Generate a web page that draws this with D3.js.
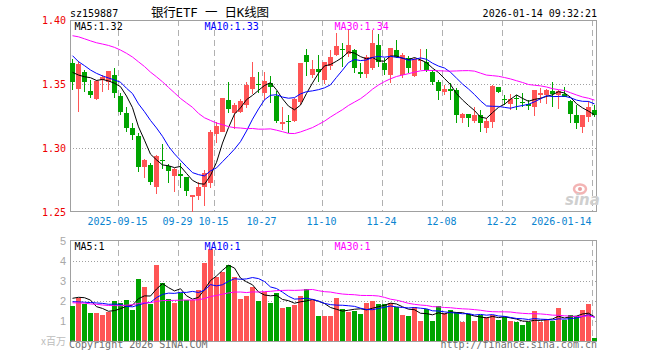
<!DOCTYPE html>
<html>
<head>
<meta charset="utf-8">
<script src="https://cdn.jsdelivr.net/npm/d3@7/dist/d3.min.js"></script>
<style>
body { margin: 0; background: #fff; }
svg { display: block; }
text { font-family: "DejaVu Sans Mono", monospace; font-size: 10px; }
</style>
</head>
<body>
<div id="chart"></div>
<script>
// trading days shown on the chart
var dates = [
    "2025-09-03","2025-09-04","2025-09-05","2025-09-08","2025-09-09","2025-09-10","2025-09-11","2025-09-12",
    "2025-09-15","2025-09-16","2025-09-17","2025-09-18","2025-09-19","2025-09-22","2025-09-23","2025-09-24",
    "2025-09-25","2025-09-26","2025-09-29","2025-09-30","2025-10-09","2025-10-10","2025-10-13","2025-10-14",
    "2025-10-15","2025-10-16","2025-10-17","2025-10-20","2025-10-21","2025-10-22","2025-10-23","2025-10-24",
    "2025-10-27","2025-10-28","2025-10-29","2025-10-30","2025-10-31","2025-11-03","2025-11-04","2025-11-05",
    "2025-11-06","2025-11-07","2025-11-10","2025-11-11","2025-11-12","2025-11-13","2025-11-14","2025-11-17",
    "2025-11-18","2025-11-19","2025-11-20","2025-11-21","2025-11-24","2025-11-25","2025-11-26","2025-11-27",
    "2025-11-28","2025-12-01","2025-12-02","2025-12-03","2025-12-04","2025-12-05","2025-12-08","2025-12-09",
    "2025-12-10","2025-12-11","2025-12-12","2025-12-15","2025-12-16","2025-12-17","2025-12-18","2025-12-19",
    "2025-12-22","2025-12-23","2025-12-24","2025-12-25","2025-12-26","2025-12-29","2025-12-30","2025-12-31",
    "2026-01-05","2026-01-06","2026-01-07","2026-01-08","2026-01-09","2026-01-12","2026-01-13","2026-01-14"
];

var opens = [
    1.3661,1.3461,1.3594,1.3445,1.3383,1.3531,1.3513,1.3570,1.3409,1.3276,1.3159,1.3096,1.2854,1.2867,1.2698,1.2906,
    1.2862,1.2784,1.2797,1.2776,1.2620,1.2628,1.2698,1.2729,1.3109,1.3128,1.3375,1.3271,1.3284,1.3336,1.3458,1.3502,
    1.3427,1.3510,1.3409,1.3188,1.3214,1.3214,1.3362,1.3727,1.3570,1.3617,1.3531,1.3643,1.3727,1.3773,1.3734,1.3766,
    1.3591,1.3576,1.3622,1.3805,1.3661,1.3570,1.3766,1.3570,1.3700,1.3565,1.3677,1.3669,1.3596,1.3513,1.3440,1.3458,
    1.3453,1.3232,1.3266,1.3211,1.3258,1.3154,1.3206,1.3474,1.3385,1.3344,1.3391,1.3359,1.3344,1.3318,1.3414,1.3414,
    1.3448,1.3414,1.3422,1.3370,1.3258,1.3167,1.3240,1.3297
];
var highs = [
    1.3695,1.3682,1.3610,1.3531,1.3531,1.3570,1.3604,1.3628,1.3427,1.3323,1.3193,1.3115,1.2911,1.2880,1.2943,1.3031,
    1.2875,1.2841,1.2885,1.2776,1.2633,1.2737,1.2828,1.3141,1.3206,1.3393,1.3518,1.3349,1.3380,1.3518,1.3674,1.3596,
    1.3596,1.3562,1.3448,1.3323,1.3258,1.3388,1.3667,1.3773,1.3688,1.3727,1.3674,1.3766,1.3900,1.3818,1.3920,1.3770,
    1.3661,1.3727,1.3920,1.3890,1.3700,1.3779,1.3844,1.3740,1.3720,1.3701,1.3770,1.3770,1.3609,1.3530,1.3492,1.3505,
    1.3466,1.3271,1.3266,1.3318,1.3297,1.3232,1.3492,1.3479,1.3414,1.3422,1.3414,1.3427,1.3375,1.3453,1.3466,1.3458,
    1.3513,1.3453,1.3479,1.3375,1.3336,1.3258,1.3370,1.3336
];
var lows = [
    1.3453,1.3279,1.3440,1.3388,1.3375,1.3440,1.3453,1.3388,1.3258,1.3128,1.3063,1.2815,1.2763,1.2711,1.2638,1.2833,
    1.2729,1.2659,1.2685,1.2628,1.2503,1.2594,1.2549,1.2685,1.3036,1.3128,1.3271,1.3146,1.3271,1.3310,1.3422,1.3427,
    1.3375,1.3349,1.3193,1.3141,1.3120,1.3206,1.3336,1.3565,1.3544,1.3513,1.3500,1.3609,1.3720,1.3635,1.3710,1.3583,
    1.3544,1.3544,1.3609,1.3635,1.3570,1.3505,1.3700,1.3550,1.3583,1.3557,1.3610,1.3596,1.3492,1.3375,1.3414,1.3375,
    1.3193,1.3193,1.3167,1.3193,1.3128,1.3115,1.3154,1.3427,1.3336,1.3297,1.3297,1.3323,1.3297,1.3250,1.3349,1.3344,
    1.3323,1.3305,1.3396,1.3193,1.3146,1.3120,1.3206,1.3240
];
var closes = [
    1.3518,1.3659,1.3518,1.3417,1.3526,1.3557,1.3602,1.3427,1.3284,1.3159,1.3102,1.2854,1.2906,1.2737,1.2938,1.2903,
    1.2823,1.2833,1.2784,1.2664,1.2633,1.2698,1.2807,1.3128,1.3172,1.3388,1.3302,1.3336,1.3370,1.3492,1.3557,1.3497,
    1.3526,1.3479,1.3214,1.3206,1.3211,1.3383,1.3661,1.3669,1.3617,1.3591,1.3669,1.3714,1.3800,1.3766,1.3805,1.3622,
    1.3576,1.3714,1.3818,1.3674,1.3609,1.3779,1.3714,1.3727,1.3622,1.3693,1.3685,1.3609,1.3513,1.3448,1.3458,1.3448,
    1.3258,1.3266,1.3232,1.3258,1.3193,1.3211,1.3487,1.3440,1.3380,1.3383,1.3383,1.3352,1.3328,1.3453,1.3427,1.3453,
    1.3419,1.3448,1.3401,1.3263,1.3198,1.3258,1.3318,1.3258
];
// volume, millions
var volumes = [
    1.73,2.15,1.83,1.40,1.40,1.28,1.45,2.00,1.87,2.03,1.53,3.08,2.70,1.83,3.78,2.88,
    2.08,1.88,2.37,2.02,2.03,2.53,3.88,4.58,3.17,3.45,3.78,3.18,2.08,2.23,2.70,2.00,
    2.42,1.87,2.37,1.65,1.70,1.78,2.23,2.58,2.03,1.23,1.23,1.23,2.13,1.58,1.45,1.48,
    1.33,1.88,1.98,1.83,1.83,1.87,1.67,1.28,1.23,1.70,0.98,1.58,0.98,1.73,1.40,1.52,
    1.42,0.93,1.32,0.98,1.28,1.20,1.28,1.03,1.20,0.98,0.92,0.78,0.95,1.47,0.95,1.08,
    0.98,1.63,1.03,1.27,1.23,1.52,1.83,0.12
];
// the 29 sessions before the first candle (only feed the moving averages)
var prevCloses = [
    1.392,1.398,1.390,1.397,1.386,1.393,1.388,1.391,1.392,1.398,1.3975,1.401,1.405,1.4031,1.408,
    1.413,1.411,1.4093,1.372,1.3656,1.4129,1.3828,1.3757,1.3786,1.3757,1.3764,1.3583,1.3457,1.3633
];
var prevVolumes = [
    2.40,2.10,2.60,2.00,2.30,2.20,2.10,2.18,1.05,1.00,0.99,1.80,1.65,1.90,1.72,
    1.70,1.90,2.00,1.85,1.93,2.25,2.00,1.55,1.60,1.50,1.90,1.93,2.00,3.04
];

var priceTicks  = [1.40, 1.35, 1.30, 1.25];
var volTicks    = [5, 4, 3, 2, 1];
var gridDates   = ["2025-09-15","2025-09-29","2025-10-15","2025-10-27","2025-11-10","2025-11-24","2025-12-08","2025-12-22","2026-01-14"];
var gridLabels  = ["2025-09-15","09-29","10-15","10-27","11-10","11-24","12-08","12-22","2026-01-14"];
var priceLegend = ["MA5:1.32", "MA10:1.33", "MA30:1.34"];
var volLegend   = ["MA5:1", "MA10:1", "MA30:1"];
var maPeriods   = [5, 10, 30];
var maColors    = ["#000000", "#0000ff", "#ff00ff"];

var red   = "#ff5555";
var green = "#00a400";

var width  = 660;
var height = 360;

var svg = d3.select("#chart").append("svg")
    .attr("width", width)
    .attr("height", height)
    .attr("shape-rendering", "crispEdges");

var left = 70, right = 597;
var x  = d3.scaleBand().domain(dates).range([69, 597]);
var y  = d3.scaleLinear().domain([1.25, 1.40]).range([212, 20]);
var yv = d3.scaleLinear().domain([0, 5]).range([340.7, 240.7]);

function movingAvg(prev, cur, n) {
    var all = prev.concat(cur);
    return cur.map(function(d, i) {
        var end = i + prev.length + 1;
        return d3.mean(all.slice(end - n, end));
    });
}

function frame(top, bottom, ticks, scale) {
    var g = svg.append("g");
    g.selectAll(".hg").data(ticks.slice(1, ticks.length - (scale === y ? 1 : 0))).enter().append("line")
        .attr("x1", left).attr("x2", right)
        .attr("y1", function(d) { return Math.round(scale(d)) + 0.5; })
        .attr("y2", function(d) { return Math.round(scale(d)) + 0.5; })
        .attr("stroke", "#a0a0a0").attr("stroke-dasharray", "1,2");
    g.selectAll(".vg").data(gridDates).enter().append("line")
        .attr("x1", function(d) { return x(d) + 1.5; })
        .attr("x2", function(d) { return x(d) + 1.5; })
        .attr("y1", top).attr("y2", bottom)
        .attr("stroke", "#b0b0b0").attr("stroke-dasharray", "6,4");
    g.append("rect")
        .attr("x", left + 0.5).attr("y", top + 0.5)
        .attr("width", right - left - 1).attr("height", bottom - top)
        .attr("fill", "none").attr("stroke", "#a0a0a0");
}

frame(20, 211, priceTicks, y);
frame(240, 341, volTicks, yv);

// watermark
var wm = svg.append("g").attr("shape-rendering", "auto");
wm.append("ellipse").attr("cx", 580).attr("cy", 189).attr("rx", 6).attr("ry", 4.5)
    .attr("fill", "none").attr("stroke", "#f3b4b4").attr("stroke-width", 2.5);
wm.append("circle").attr("cx", 580).attr("cy", 189).attr("r", 2).attr("fill", "#e9a0a0");
wm.append("text").attr("x", 565).attr("y", 205)
    .style("font-family", "DejaVu Sans").style("font-size", "15px")
    .style("font-style", "italic").style("font-weight", "bold")
    .attr("fill", "#cfcfcf").text("sina");

// candles
var idx = d3.range(dates.length);
var cg = svg.append("g");
cg.selectAll(".wick").data(idx).enter().append("line")
    .attr("x1", function(i) { return x(dates[i]) + 3.5; })
    .attr("x2", function(i) { return x(dates[i]) + 3.5; })
    .attr("y1", function(i) { return y(highs[i]); })
    .attr("y2", function(i) { return y(lows[i]); })
    .attr("stroke", function(i) { return closes[i] >= opens[i] ? red : green; });
cg.selectAll(".body").data(idx).enter().append("rect")
    .attr("x", function(i) { return x(dates[i]) + 1; })
    .attr("width", 5)
    .attr("y", function(i) { return y(Math.max(opens[i], closes[i])); })
    .attr("height", function(i) { return Math.max(1, Math.abs(y(opens[i]) - y(closes[i]))); })
    .attr("fill", function(i) { return closes[i] >= opens[i] ? red : green; });

// volume bars
svg.append("g").selectAll("rect").data(idx).enter().append("rect")
    .attr("x", function(i) { return x(dates[i]) + 1; })
    .attr("width", 5)
    .attr("y", function(i) { return yv(volumes[i]); })
    .attr("height", function(i) { return yv(0) - yv(volumes[i]); })
    .attr("fill", function(i) { return closes[i] >= opens[i] ? red : green; });

// moving averages
maPeriods.forEach(function(n, j) {
    var pm = movingAvg(prevCloses, closes, n);
    var vm = movingAvg(prevVolumes, volumes, n);
    var lp = d3.line().x(function(d, i) { return x(dates[i]) + 3.5; }).y(function(d) { return y(d); });
    var lv = d3.line().x(function(d, i) { return x(dates[i]) + 3.5; }).y(function(d) { return yv(d); });
    svg.append("path").attr("d", lp(pm)).attr("fill", "none").attr("stroke", maColors[j]).attr("stroke-width", 1).attr("shape-rendering", "auto");
    svg.append("path").attr("d", lv(vm)).attr("fill", "none").attr("stroke", maColors[j]).attr("stroke-width", 1).attr("shape-rendering", "auto");
});

// legends
var legendX = [74.5, 204.5, 334.5];
svg.selectAll(".pl").data(priceLegend).enter().append("text")
    .attr("x", function(d, i) { return legendX[i]; }).attr("y", 29.5)
    .attr("fill", function(d, i) { return maColors[i]; }).text(function(d) { return d; });
svg.selectAll(".vl").data(volLegend).enter().append("text")
    .attr("x", function(d, i) { return legendX[i]; }).attr("y", 250)
    .attr("fill", function(d, i) { return maColors[i]; }).text(function(d) { return d; });

// axes labels
svg.selectAll(".py").data(priceTicks).enter().append("text")
    .attr("x", 66).attr("y", function(d) { return y(d) + 4; })
    .attr("text-anchor", "end").attr("fill", "#ee0000")
    .text(function(d) { return d3.format(".2f")(d); });
svg.selectAll(".vy").data(volTicks).enter().append("text")
    .attr("x", 66).attr("y", function(d) { return yv(d) + 4; })
    .attr("text-anchor", "end").attr("fill", "#a8a8a8")
    .style("font-family", "Liberation Sans").style("font-size", "11px")
    .text(function(d) { return d; });
svg.selectAll(".xl").data(gridLabels).enter().append("text")
    .attr("x", function(d, i) { return x(gridDates[i]) + 0.5; })
    .attr("y", 225)
    .attr("text-anchor", function(d, i) { return i === gridLabels.length - 1 ? "end" : "middle"; })
    .attr("fill", "#0a84d0")
    .text(function(d) { return d; });

// header and footer
svg.append("text").attr("x", 70).attr("y", 16.5).attr("fill", "#000").text("sz159887");
svg.append("text").attr("x", 151).attr("y", 17).attr("fill", "#000")
    .style("font-family", "'DejaVu Sans Mono', 'Noto Sans CJK SC'").style("font-size", "12.5px")
    .attr("textLength", 118).attr("lengthAdjust", "spacing")
    .text("银行ETF 一 日K线图");
svg.append("text").attr("x", 597).attr("y", 16.5).attr("text-anchor", "end").attr("fill", "#000")
    .text("2026-01-14 09:32:21");
svg.append("text").attr("x", 66).attr("y", 345).attr("text-anchor", "end").attr("fill", "#bdbdbd")
    .style("font-family", "Noto Sans CJK SC").style("font-size", "10px")
    .text("x百万");
svg.append("text").attr("x", 69).attr("y", 348).attr("fill", "#707070").text("Copyright 2026 SINA.COM");
svg.append("text").attr("x", 597).attr("y", 348).attr("text-anchor", "end").attr("fill", "#707070")
    .text("http://finance.sina.com.cn");
</script>
</body>
</html>
